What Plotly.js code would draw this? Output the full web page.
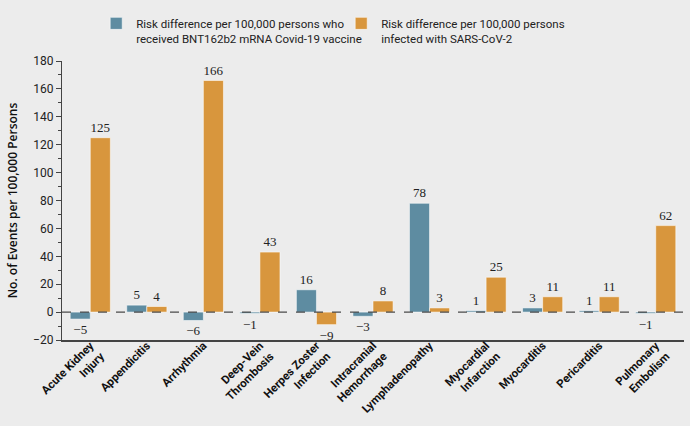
<!DOCTYPE html>
<html>
<head>
<meta charset="utf-8">
<script src="https://cdn.plot.ly/plotly-3.0.1.min.js"></script>
<style>html,body{margin:0;padding:0;background:#ececec;}#chart{width:690px;height:426px;}</style>
</head>
<body>
<div id="chart"></div>
<script>
var categories = ["Acute Kidney<br>Injury", "Appendicitis", "Arrhythmia", "Deep-Vein<br>Thrombosis", "Herpes Zoster<br>Infection", "Intracranial<br>Hemorrhage", "Lymphadenopathy", "Myocardial<br>Infarction", "Myocarditis", "Pericarditis", "Pulmonary<br>Embolism"];
var vaccineValues = [-5, 5, -6, -1, 16, -3, 78, 1, 3, 1, -1];
var infectionValues = [125, 4, 166, 43, -9, 8, 3, 25, 11, 11, 62];
var vaccineName = "Risk difference per 100,000 persons who<br>received BNT162b2 mRNA Covid-19 vaccine";
var infectionName = "Risk difference per 100,000 persons<br>infected with SARS-CoV-2";
var yTickVals = [-20, 0, 20, 40, 60, 80, 100, 120, 140, 160, 180];

function fmt(v){ return v < 0 ? "\u2212" + Math.abs(v) : String(v); }

var sans = "Roboto, sans-serif";
var labelFont = {family: "Liberation Serif, serif", size: 13, color: "#222"};
var traces = [
  {type: "bar", x: categories, y: vaccineValues, name: vaccineName,
   marker: {color: "#5e8ca1", line: {color: "rgba(255,255,255,0.55)", width: 1}},
   text: vaccineValues.map(fmt), textposition: "outside", textfont: labelFont, cliponaxis: false},
  {type: "bar", x: categories, y: infectionValues, name: infectionName,
   marker: {color: "#d8963d", line: {color: "rgba(255,255,255,0.55)", width: 1}},
   text: infectionValues.map(fmt), textposition: "outside", textfont: labelFont, cliponaxis: false}
];

var layout = {
  width: 690, height: 426,
  paper_bgcolor: "#ececec", plot_bgcolor: "#ececec",
  margin: {l: 62, r: 6, t: 61, b: 86},
  font: {family: sans, size: 12, color: "#222"},
  barmode: "group", bargap: 0.29, bargroupgap: 0,
  showlegend: true,
  legend: {orientation: "h", x: 0.055, xanchor: "left", y: 1.185, yanchor: "top",
           font: {family: sans, size: 11.5, color: "#222"}, valign: "top",
           entrywidth: 200, entrywidthmode: "pixels",
           itemwidth: 14, traceorder: "normal", bgcolor: "rgba(0,0,0,0)"},
  xaxis: {showline: true, linecolor: "#444", linewidth: 1.5, ticks: "", tickangle: -45,
          ticklabelstandoff: -7,
          tickfont: {family: sans, size: 11.5, color: "#111", weight: 700},
          showgrid: false, zeroline: false, automargin: false},
  yaxis: {range: [-20, 180], tickvals: yTickVals, ticktext: yTickVals.map(fmt),
          showline: true, linecolor: "#444", linewidth: 1.2, ticks: "outside", ticklen: 5, tickcolor: "#444",
          minor: {dtick: 10, ticks: "outside", ticklen: 3, tickcolor: "#444", showgrid: false},
          showgrid: false, zeroline: false,
          tickfont: {family: sans, size: 12, color: "#222"},
          title: {text: "No. of Events per 100,000 Persons", standoff: 12,
                  font: {family: "Open Sans, sans-serif", size: 12, color: "#111", weight: 600}}},
  shapes: [{type: "line", xref: "paper", x0: 0, x1: 1, yref: "y", y0: 0, y1: 0,
            line: {color: "#222", width: 1, dash: "dash"}}]
};
Plotly.newPlot("chart", traces, layout, {displayModeBar: false, staticPlot: true});
</script>
</body>
</html>
